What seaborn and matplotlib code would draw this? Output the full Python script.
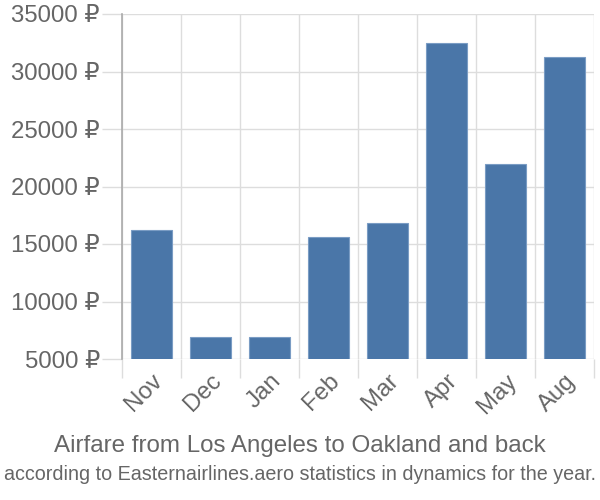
import matplotlib
matplotlib.use("Agg")
import matplotlib.pyplot as plt
import seaborn as sns
import pandas as pd
import numpy as np

months = ["Nov", "Dec", "Jan", "Feb", "Mar", "Apr", "May", "Aug"]
prices = [16200, 6900, 6900, 15600, 16800, 32500, 22000, 31250]
yticks = [5000, 10000, 15000, 20000, 25000, 30000, 35000]
title_line1 = "Airfare from Los Angeles to Oakland and back"
title_line2 = "according to Easternairlines.aero statistics in dynamics for the year."

sns.set_theme(style="white")
plt.rcParams['font.family'] = ['Liberation Sans', 'DejaVu Sans']

df = pd.DataFrame({"month": months, "price": prices})

fig = plt.figure(figsize=(6, 5), dpi=100)
ax = fig.add_axes([122/600, 1-359/500, (594-122)/600, (359-14)/500])

sns.barplot(data=df, x="month", y="price", order=months, color="#4a76a8",
            width=0.71, edgecolor="#7a9cc4", linewidth=0.8, ax=ax, zorder=3,
            saturation=1)

ax.set_ylim(5000, 35000)
ax.set_xlim(-0.5, len(months) - 0.5)
ax.set_yticks(yticks)
ax.set_yticklabels([f"{v} \u20bd" for v in yticks])
ax.set_xticks(range(len(months)))
ax.set_xticklabels(months, rotation=45, ha="right", va="top", rotation_mode="anchor")
ax.set_xticks(np.arange(-0.5, len(months)), minor=True)

ax.grid(False)
ax.yaxis.grid(True, color="#dddddd", linewidth=1, zorder=0)
ax.xaxis.grid(True, which="minor", color="#dddddd", linewidth=1, zorder=0)

ax.tick_params(axis="y", which="major", length=14.4, width=1, color="#dddddd",
               labelsize=17.3, labelcolor="#666666", pad=1.5, left=True)
ax.tick_params(axis="x", which="major", length=0, labelsize=17.3,
               labelcolor="#666666", pad=8)
ax.tick_params(axis="x", which="minor", length=14, width=1, color="#dddddd", bottom=True)

for s in ["top", "right", "bottom"]:
    ax.spines[s].set_visible(False)
ax.spines["left"].set_color("#aaaaaa")
ax.spines["left"].set_linewidth(1.2)
ax.set_xlabel("")
ax.set_ylabel("")

fig.text(0.5, 1-446/500, title_line1, ha="center", va="center", fontsize=17.4, color="#666666")
fig.text(0.5, 1-475/500, title_line2, ha="center", va="center", fontsize=14.2, color="#666666")

fig.savefig("out.png", dpi=100)
